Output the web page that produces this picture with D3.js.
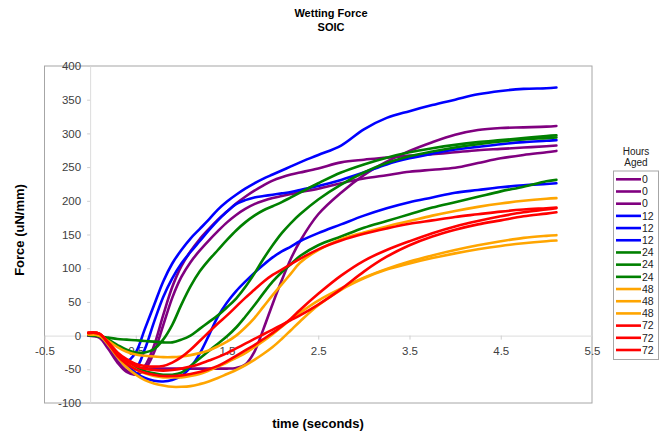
<!DOCTYPE html>
<html><head><meta charset="utf-8">
<script src="https://cdn.jsdelivr.net/npm/d3@7"></script>
<style>body{margin:0;background:#fff}svg{display:block}text{font-family:"Liberation Sans",Arial,sans-serif}</style>
</head><body><svg id="c" width="665" height="437"></svg>
<script>
// time (seconds) sample points
const time = [-0.02,0.1,0.2,0.3,0.4,0.5,0.6,0.7,0.8,0.9,1.0,1.1,1.2,1.3,1.4,1.5,1.6,1.7,1.8,1.9,2.0,2.1,2.2,2.3,2.5,2.75,3.0,3.25,3.5,3.75,4.0,4.25,4.5,4.75,5.0,5.11];

// Force (uN/mm) per sample, 3 samples per ageing time
const aged0a  = [0,-2,-18,-38,-52,-57,-45,-15,30,72,103,125,143,158,172,184,196,206,215,223,230,235,239,242,248,257,261,264,267,269,272,275,277,279,281,282];
const aged0b  = [0,-3,-20,-40,-54,-58,-50,-25,15,56,87,109,126,141,155,168,179,188,195,200,204,207,210,213,218,226,233,238,243,246,249,256,263,268,272,274];
const aged0c  = [0,-2,-15,-32,-44,-48,-49,-49,-49,-49,-49,-49,-49,-49,-49,-49,-48,-43,-24,10,47,82,114,140,180,212,238,258,274,287,298,305,308,309,310,311];
const aged12a = [2,0,-12,-28,-38,-25,10,45,80,107,127,144,158,172,187,199,209,218,226,233,239,245,251,257,268,282,306,323,333,342,350,358,363,366,367,368];
const aged12b = [2,0,-14,-32,-45,-48,-20,20,57,85,107,124,140,156,171,184,195,201,205,207,209,211,213,216,222,231,242,254,263,270,276,280,284,287,289,290];
const aged12c = [1,-1,-12,-28,-42,-55,-63,-67,-68,-66,-60,-47,-27,0,28,49,66,80,93,105,116,125,132,140,152,165,178,189,198,205,212,216,220,223,225,226];
const aged24a = [1,-1,-3,-5,-6,-7,-8,-9,-10,-10,-6,0,10,20,30,42,55,72,92,114,134,152,167,180,202,224,242,256,266,273,279,284,288,291,293,294];
const aged24b = [1,-1,-6,-14,-21,-25,-25,-20,-6,16,46,73,95,112,127,142,156,168,178,186,192,198,205,212,226,242,254,264,272,278,283,287,290,293,296,297];
const aged24c = [1,-1,-12,-28,-40,-48,-53,-56,-58,-58,-55,-45,-34,-23,-12,-1,12,28,45,63,80,94,106,118,134,147,160,170,180,190,198,206,214,221,229,231];
const aged48a = [2,0,-8,-17,-24,-28,-30,-31,-32,-32,-31,-29,-26,-22,-16,-9,0,12,26,43,60,76,92,108,127,143,153,162,170,178,185,191,196,200,203,204];
const aged48b = [2,0,-12,-28,-40,-50,-56,-60,-62,-62,-62,-60,-57,-52,-46,-40,-33,-26,-17,-8,2,13,24,34,52,70,86,99,110,119,127,134,140,145,148,149];
const aged48c = [2,0,-14,-32,-47,-58,-66,-71,-74,-76,-76,-75,-72,-68,-63,-57,-51,-44,-36,-27,-17,-5,8,21,45,68,85,98,107,115,122,128,133,137,140,141];
const aged72a = [4,3,-10,-25,-35,-42,-45,-46,-45,-40,-32,-21,-8,5,18,30,43,56,68,80,90,98,106,114,128,141,151,159,166,171,176,180,184,187,189,190];
const aged72b = [4,3,-12,-30,-42,-50,-55,-58,-60,-60,-59,-57,-54,-50,-45,-38,-30,-22,-14,-5,4,14,25,38,62,89,111,127,140,152,162,170,177,183,187,189];
const aged72c = [4,3,-11,-27,-38,-45,-49,-51,-52,-51,-49,-46,-42,-37,-32,-26,-19,-12,-5,2,9,16,23,30,46,69,95,117,134,147,157,165,171,177,181,183];

const legendLabels = ["0","0","0","12","12","12","24","24","24","48","48","48","72","72","72"];
const xTicks = [-0.5,0.5,1.5,2.5,3.5,4.5,5.5];
const yTicks = [-100,-50,0,50,100,150,200,250,300,350,400];

const seriesValues = [aged0a,aged0b,aged0c,aged12a,aged12b,aged12c,aged24a,aged24b,aged24c,aged48a,aged48b,aged48c,aged72a,aged72b,aged72c];
const colorOf = {"0":"#800080","12":"#0000ff","24":"#008000","48":"#ffa500","72":"#ff0000"};

const svg = d3.select("#c");
const x = d3.scaleLinear().domain([-0.5,5.5]).range([44.5,592]);
const y = d3.scaleLinear().domain([-100,400]).range([403,66]);

// titles
svg.append("text").attr("x",331).attr("y",17).attr("text-anchor","middle")
  .attr("font-size",11).attr("font-weight","bold").text("Wetting Force");
svg.append("text").attr("x",331).attr("y",31).attr("text-anchor","middle")
  .attr("font-size",11).attr("font-weight","bold").text("SOIC");

// plot area box
svg.append("rect").attr("x",x(-0.5)).attr("y",y(400))
  .attr("width",x(5.5)-x(-0.5)).attr("height",y(-100)-y(400))
  .attr("fill","none").attr("stroke","#a6a6a6").attr("stroke-width",1);

const fmt = d => String(d);

const xAxis = svg.append("g").attr("transform",`translate(0,${y(0)})`)
  .call(d3.axisBottom(x).tickValues(xTicks).tickSize(4).tickSizeOuter(0).tickPadding(7).tickFormat(fmt));
const yAxis = svg.append("g").attr("transform",`translate(${x(0)},0)`)
  .call(d3.axisLeft(y).tickValues(yTicks).tickSize(3).tickSizeOuter(0).tickPadding(6).tickFormat(fmt));
[xAxis,yAxis].forEach(g=>{
  g.select(".domain").attr("stroke","#dcdcdc");
  g.selectAll(".tick line").attr("stroke","#cfcfcf");
  g.selectAll(".tick text").attr("fill","#404040").attr("font-size",11.5)
    .attr("font-family","'Liberation Sans',Arial,sans-serif");
});

// axis titles
svg.append("text").attr("x",318).attr("y",428).attr("text-anchor","middle")
  .attr("font-size",13).attr("font-weight","bold").text("time (seconds)");
svg.append("text").attr("transform","translate(24,230) rotate(-90)").attr("text-anchor","middle")
  .attr("font-size",13).attr("font-weight","bold").text("Force (uN/mm)");

// lines
const line = d3.line().x((d,i)=>x(time[i])).y(d=>y(d)).curve(d3.curveCatmullRom.alpha(0.5));
seriesValues.forEach((vals,k)=>{
  svg.append("path").datum(vals).attr("d",line).attr("fill","none")
    .attr("stroke",colorOf[legendLabels[k]]).attr("stroke-width",2.6)
    .attr("stroke-linejoin","round").attr("stroke-linecap","round");
});

// legend
svg.append("text").attr("x",636).attr("y",154.5).attr("text-anchor","middle").attr("font-size",10).attr("fill","#222").text("Hours");
svg.append("text").attr("x",636).attr("y",166).attr("text-anchor","middle").attr("font-size",10).attr("fill","#222").text("Aged");
svg.append("rect").attr("x",613.5).attr("y",171).attr("width",45).attr("height",188.5)
  .attr("fill","#fff").attr("stroke","#a6a6a6");
const ly = d3.scaleLinear().domain([0,legendLabels.length-1]).range([179.3,350]);
legendLabels.forEach((lab,i)=>{
  svg.append("line").attr("x1",616).attr("x2",641).attr("y1",ly(i)).attr("y2",ly(i))
    .attr("stroke",colorOf[lab]).attr("stroke-width",2.6);
  svg.append("text").attr("x",642).attr("y",ly(i)).attr("dy","0.36em").attr("font-size",10.5).attr("fill","#222").text(lab);
});
</script></body></html>
